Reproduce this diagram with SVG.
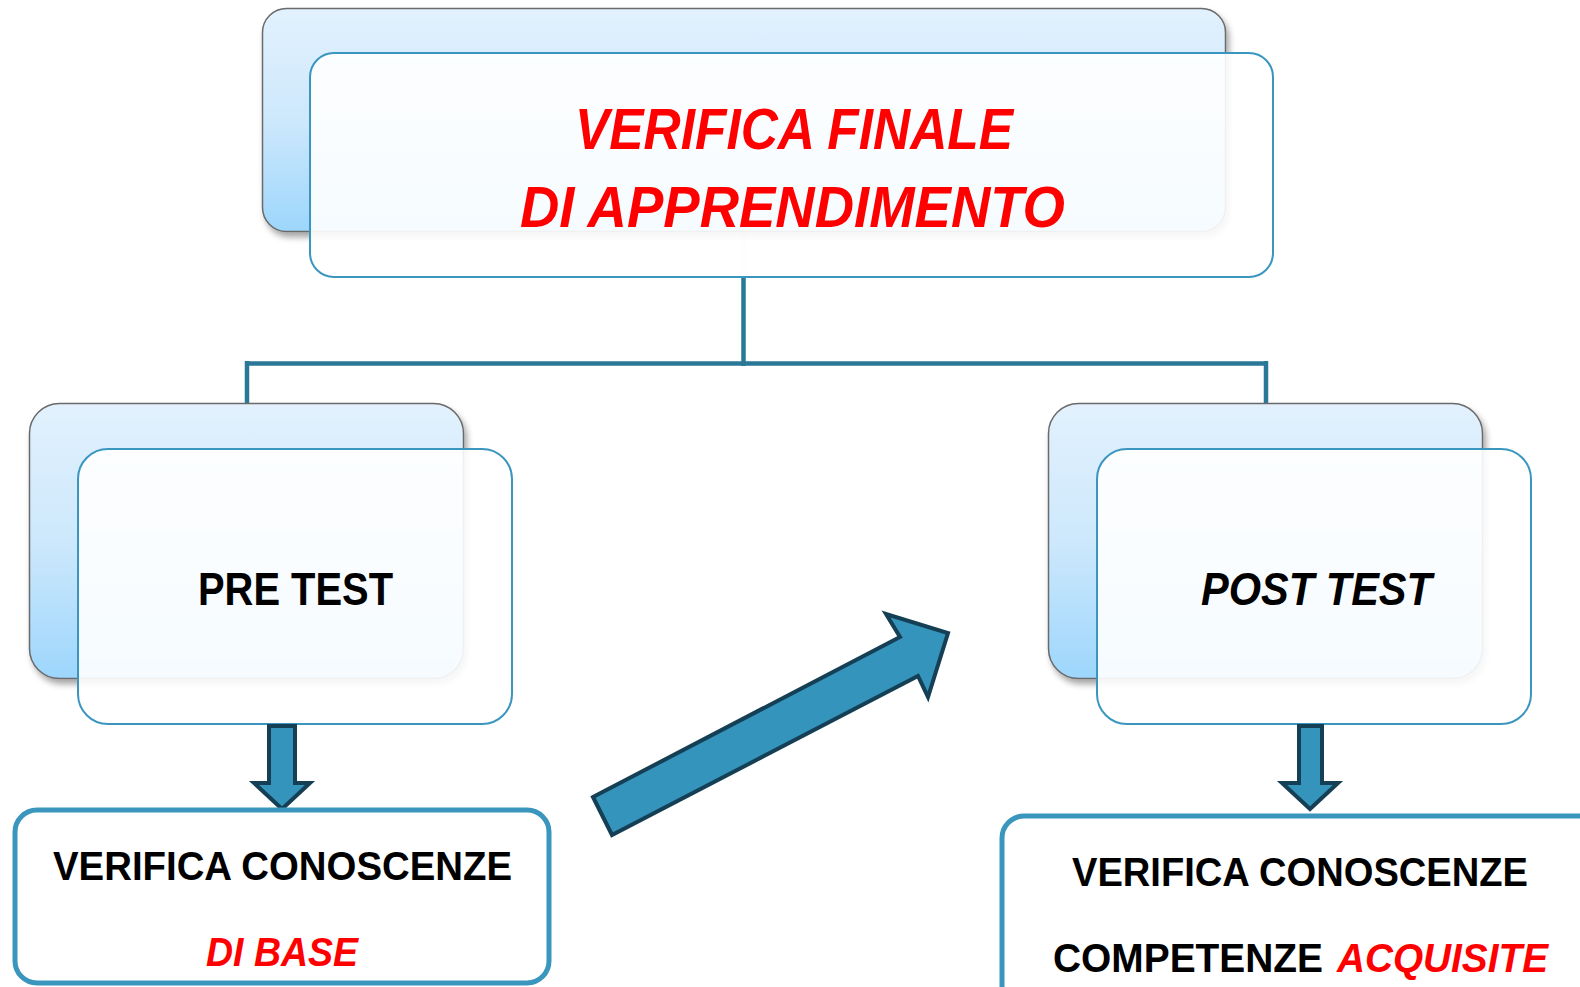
<svg xmlns="http://www.w3.org/2000/svg" width="1580" height="987" viewBox="0 0 1580 987">
<style>
.back{fill:url(#gBack);stroke:#6b6b6b;stroke-width:1.5;filter:url(#shadow)}
.front{fill:#ffffff;fill-opacity:0.9;stroke:#3b96bf;stroke-width:2}
.box{fill:#ffffff;stroke:#3a96bd;stroke-width:5}
.conn{fill:none;stroke:#2a7897;stroke-width:4.5}
.conn-faint{fill:none;stroke:#2a7897;stroke-width:4.5;opacity:0.1}
.arrow{fill:#3594bb;stroke:#143f55;stroke-width:4;stroke-linejoin:miter}
.t{font-family:"Liberation Sans",Arial,sans-serif;font-weight:bold}
.title{font-size:57px;font-style:italic;fill:#ff0000}
.mid{font-size:46px;fill:#000000}
.small{font-size:41px;fill:#000000}
.red{fill:#ff0000;font-style:italic}
.it{font-style:italic}
</style>
<defs>
<linearGradient id="gBack" x1="0" y1="0" x2="0" y2="1">
<stop offset="0" stop-color="#e2f1fd"/>
<stop offset="0.5" stop-color="#cde8fc"/>
<stop offset="1" stop-color="#9dd6fc"/>
</linearGradient>
<filter id="shadow" x="-5%" y="-5%" width="115%" height="120%">
<feDropShadow dx="3" dy="5" stdDeviation="3" flood-color="#000000" flood-opacity="0.35"/>
</filter>
</defs>

<g id="connectors">
<path class="conn" d="M743.5 277 V363.5 M247 363.5 H1266 M247 361 V403 M1266 361 V403 M743.5 361 V366"/>
<path class="conn-faint" d="M743.5 232 V277"/>
</g>

<g id="node-top">
<rect class="back" x="262.5" y="8.5" width="963" height="223" rx="24"/>
<rect class="front" x="310" y="53" width="963" height="224" rx="24"/>
<text class="t title" x="575" y="148.5" textLength="438" lengthAdjust="spacingAndGlyphs">VERIFICA FINALE</text>
<text class="t title" x="520" y="227" textLength="545" lengthAdjust="spacingAndGlyphs">DI APPRENDIMENTO</text>
</g>

<g id="node-pretest">
<rect class="back" x="29.5" y="403.5" width="434" height="275" rx="30"/>
<rect class="front" x="78" y="449" width="434" height="275" rx="30"/>
<text class="t mid" x="198" y="605" textLength="195" lengthAdjust="spacingAndGlyphs">PRE TEST</text>
</g>

<g id="node-posttest">
<rect class="back" x="1048.5" y="403.5" width="434" height="275" rx="30"/>
<rect class="front" x="1097" y="449" width="434" height="275" rx="30"/>
<text class="t mid it" x="1201" y="605" textLength="231" lengthAdjust="spacingAndGlyphs">POST TEST</text>
</g>

<g id="arrows">
<path class="arrow" d="M269 726 H295 V783 H310 L282 809 L254 783 H269 Z"/>
<path class="arrow" d="M1299 726 H1322 V783 H1338 L1310 809 L1282 783 H1299 Z"/>
<path class="arrow" d="M593 797 L900 637 L886 614 L948 633 L928 697 L918 676 L612 835 Z"/>
</g>

<g id="node-base">
<rect class="box" x="15" y="810" width="534" height="173" rx="22"/>
<text class="t small" x="53" y="880" textLength="459" lengthAdjust="spacingAndGlyphs">VERIFICA CONOSCENZE</text>
<text class="t small red" x="206" y="966" textLength="152" lengthAdjust="spacingAndGlyphs">DI BASE</text>
</g>

<g id="node-acquisite">
<rect class="box" x="1002" y="816" width="640" height="220" rx="22"/>
<text class="t small" x="1072" y="886" textLength="456" lengthAdjust="spacingAndGlyphs">VERIFICA CONOSCENZE</text>
<text class="t small" x="1053" y="972" textLength="270" lengthAdjust="spacingAndGlyphs">COMPETENZE</text>
<text class="t small red" x="1337" y="972" textLength="211" lengthAdjust="spacingAndGlyphs">ACQUISITE</text>
</g>
</svg>
